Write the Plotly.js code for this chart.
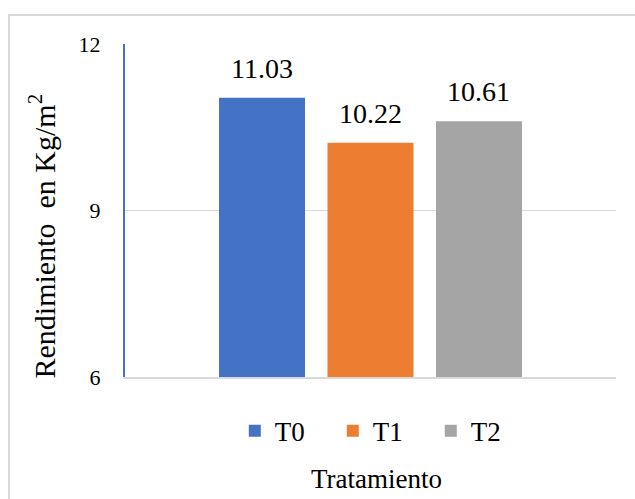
<!DOCTYPE html>
<html>
<head>
<meta charset="utf-8">
<script src="https://cdn.plot.ly/plotly-3.0.1.min.js"></script>
<style>
  html, body { margin: 0; padding: 0; background: #ffffff; overflow: hidden; }
  #wrap { position: relative; width: 635px; height: 499px; }
  #chart { position: absolute; left: 0; top: 0; width: 635px; height: 499px; }
  #frame {
    position: absolute; left: 8px; top: 14px; width: 700px; height: 600px;
    border-left: 2px solid #d9d9d9; border-top: 2px solid #d9d9d9;
    pointer-events: none;
  }
</style>
</head>
<body>
<div id="wrap">
  <div id="chart"></div>
  <div id="frame"></div>
</div>
<script>
// Treatments and their yield (kg/m²)
const categories = ['T0', 'T1', 'T2'];
const yieldValues = [11.03, 10.22, 10.61];
const barColors = ['#4472c4', '#ed7d31', '#a5a5a5'];
const yTicks = [6, 9, 12];

const serif = "Times New Roman, Liberation Serif, serif";

// One trace per treatment so each gets its own legend entry
const traces = categories.map((name, i) => ({
  type: 'bar',
  name: name,
  x: [name],
  y: [yieldValues[i]],
  width: 0.793,
  marker: { color: barColors[i] },
  hoverinfo: 'name+y'
}));

// Value labels above each bar
const valueLabels = categories.map((name, i) => ({
  x: name, xref: 'x',
  y: yieldValues[i], yref: 'y',
  text: yieldValues[i].toFixed(2),
  showarrow: false,
  yanchor: 'bottom',
  yshift: 12,
  font: { family: serif, size: 28, color: '#000000' }
}));

const layout = {
  width: 635, height: 499,
  margin: { l: 125, r: 19, t: 44, b: 122 },
  font: { family: serif, color: '#000000' },
  paper_bgcolor: '#ffffff',
  plot_bgcolor: '#ffffff',
  barmode: 'overlay',
  showlegend: true,
  legend: {
    orientation: 'h',
    x: 0.523, xanchor: 'center',
    y: -0.163, yanchor: 'middle',
    font: { family: serif, size: 27, color: '#000000' },
    entrywidth: 53, entrywidthmode: 'pixels',
    itemwidth: 30,
    bgcolor: 'rgba(0,0,0,0)'
  },
  xaxis: {
    type: 'category',
    categoryorder: 'array',
    categoryarray: categories,
    range: [-1.263, 3.263],
    showticklabels: false,
    ticks: '',
    showgrid: false,
    zeroline: false,
    showline: true,
    linecolor: '#d9d9d9',
    linewidth: 2,
    fixedrange: true
  },
  yaxis: {
    range: [6, 12],
    tickvals: yTicks,
    ticktext: yTicks.map(String),
    tickfont: { family: serif, size: 22, color: '#000000' },
    ticks: '',
    ticklabelstandoff: 18,
    showgrid: true,
    gridcolor: '#d9d9d9',
    gridwidth: 1.5,
    zeroline: false,
    showline: true,
    linecolor: '#4472c4',
    linewidth: 2,
    fixedrange: true
  },
  annotations: valueLabels.concat([
    {
      text: 'Tratamiento',
      xref: 'paper', yref: 'paper',
      x: 0.512, y: -0.3075,
      xanchor: 'center', yanchor: 'middle',
      showarrow: false,
      font: { family: serif, size: 27, color: '#000000' }
    },
    {
      text: 'Rendimiento  en Kg/m<sup>2</sup>',
      xref: 'paper', yref: 'paper',
      x: -0.1694, y: 0.4244,
      xanchor: 'center', yanchor: 'middle',
      textangle: -90,
      showarrow: false,
      font: { family: serif, size: 30, color: '#000000' }
    }
  ])
};

Plotly.newPlot('chart', traces, layout, { displayModeBar: false, staticPlot: true });
</script>
</body>
</html>
